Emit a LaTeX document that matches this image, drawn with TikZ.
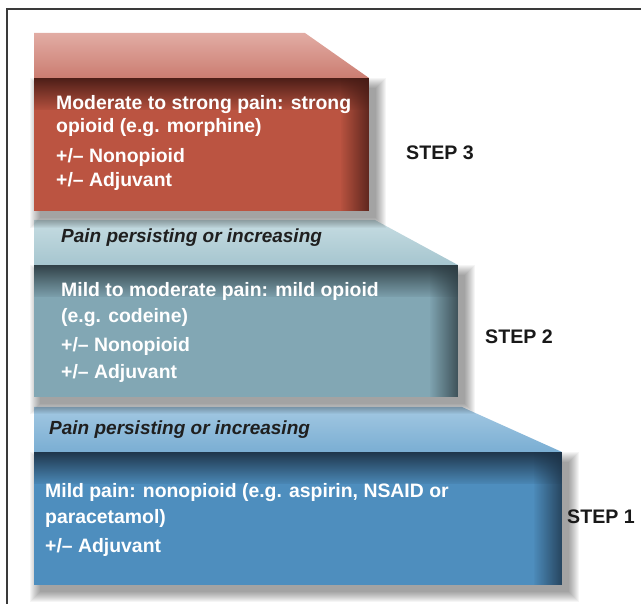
\documentclass[tikz,border=0pt]{standalone}
\usepackage{fontspec}
\setmainfont{Liberation Sans}
\usetikzlibrary{calc,fadings}
\definecolor{boxA}{HTML}{4E8EBE}
\definecolor{darkA}{HTML}{1C3145}
\definecolor{bandA}{HTML}{7AAED3}
\definecolor{bandAl}{HTML}{A3C8E2}
\definecolor{boxB}{HTML}{82A7B4}
\definecolor{darkB}{HTML}{2C3B41}
\definecolor{bandB}{HTML}{A6C6CF}
\definecolor{bandBl}{HTML}{C6DCE2}
\definecolor{boxC}{HTML}{BB5441}
\definecolor{darkC}{HTML}{461B15}
\definecolor{bandC}{HTML}{CB7D71}
\definecolor{bandCl}{HTML}{E2ACA4}
\definecolor{framecol}{HTML}{3A3A3A}
\begin{tikzfadingfrompicture}[name=fadetop]
  \shade[top color=transparent!0, middle color=transparent!65, bottom color=transparent!100] (0,0) rectangle (2,2);
\end{tikzfadingfrompicture}
\begin{tikzfadingfrompicture}[name=faderight]
  \shade[left color=transparent!100, middle color=transparent!65, right color=transparent!0, shading angle=90] (0,0) rectangle (2,2);
\end{tikzfadingfrompicture}
\tikzset{
  stepbox/.style={rectangle, inner sep=0pt, anchor=north west},
  mtext/.style={font=\fontsize{19.4}{23}\selectfont\bfseries, text=white, inner sep=0pt, anchor=base west},
  btext/.style={font=\fontsize{19}{23}\selectfont\bfseries\itshape, text=black!88, inner sep=0pt, anchor=base west},
  slabel/.style={font=\fontsize{19.6}{23}\selectfont\bfseries, text=black!90, inner sep=0pt, anchor=base west},
  framestyle/.style={draw=framecol, line width=1.3pt},
}
\newcommand\SoftShadow[1]{%
  \foreach \r in {0,...,10}{%
    \fill[black, opacity=0.04] ($(#1.north west)+(6-10+\r,10-10+\r)$) rectangle ($(#1.south east)+(7+10-\r,7+10-\r)$);
  }%
}
\newcommand\DarkEdges[2]{%
  \fill[#2, path fading=fadetop, fit fading=true] (#1.north west) rectangle ($(#1.north east)+(0,32)$);
  \fill[#2, path fading=faderight, fit fading=true, opacity=0.85] ($(#1.north east)+(-28,0)$) rectangle (#1.south east);
}
\begin{document}
\begin{tikzpicture}[x=1pt,y=-1pt]
\useasboundingbox (0,0) rectangle (641,604);
% frame
\draw[framestyle] (7,604) -- (7,9) -- (641,9);
% bands
\shade[top color=bandCl, bottom color=bandC] (34,33) -- (305,33) -- (369,78) -- (34,78) -- cycle;
\shade[top color=bandBl, bottom color=bandB] (34,220) -- (375,220) -- (458,265) -- (34,265) -- cycle;
\shade[top color=bandAl, bottom color=bandA] (34,407) -- (462,407) -- (562,452) -- (34,452) -- cycle;
% boxes (placeholders for shadows)
\node[stepbox, minimum width=335pt, minimum height=133pt] (box3) at (34,78) {};
\node[stepbox, minimum width=424pt, minimum height=132pt] (box2) at (34,265) {};
\node[stepbox, minimum width=528pt, minimum height=133pt] (box1) at (34,452) {};
\SoftShadow{box3}
\SoftShadow{box2}
\SoftShadow{box1}
\fill[boxC] (box3.north west) rectangle (box3.south east);
\fill[boxB] (box2.north west) rectangle (box2.south east);
\fill[boxA] (box1.north west) rectangle (box1.south east);
\DarkEdges{box3}{darkC}
\DarkEdges{box2}{darkB}
\DarkEdges{box1}{darkA}
% step 3 text
\node[mtext] (t3a) at (56,110) {Moderate to strong pain: strong};
\node[mtext] (t3b) at (56,133) {opioid (e.g. morphine)};
\node[mtext] (t3c) at (56,163) {+/– Nonopioid};
\node[mtext] (t3d) at (56,187) {+/– Adjuvant};
\node[slabel] (s3) at (406,160) {STEP 3};
% step 2
\node[btext] (p2) at (61,243) {Pain persisting or increasing};
\node[mtext] (t2a) at (61,297) {Mild to moderate pain: mild opioid};
\node[mtext] (t2b) at (61,323) {(e.g. codeine)};
\node[mtext] (t2c) at (61,352) {+/– Nonopioid};
\node[mtext] (t2d) at (61,379) {+/– Adjuvant};
\node[slabel] (s2) at (485,344) {STEP 2};
% step 1
\node[btext] (p1) at (49,435) {Pain persisting or increasing};
\node[mtext] (t1a) at (45,497) {Mild pain: nonopioid (e.g. aspirin, NSAID or};
\node[mtext] (t1b) at (45,523) {paracetamol)};
\node[mtext] (t1c) at (45,552) {+/– Adjuvant};
\node[slabel] (s1) at (567,524) {STEP 1};
\end{tikzpicture}
\end{document}
